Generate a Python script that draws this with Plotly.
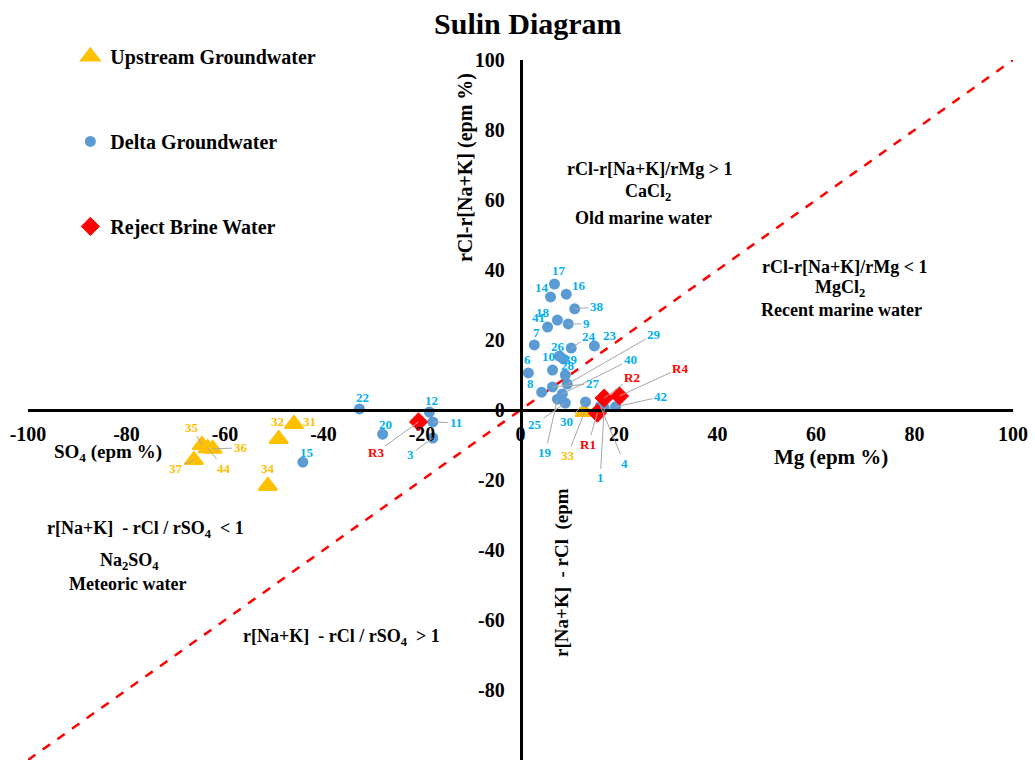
import plotly.graph_objects as go

# ---------------- data ----------------
delta_ids = ["17", "14", "16", "38", "18", "41", "9", "7", "24", "23", "26", "39", "10", "6",
             "28", "29", "40", "27", "8", "19", "25", "30", "42", "1", "4",
             "22", "12", "11", "20", "3", "15"]
delta_mg = [6.9, 6.1, 9.3, 11.0, 7.5, 5.5, 9.7, 2.8, 10.3, 15.0, 7.9, 8.7, 6.5, 1.6,
            9.1, 9.5, 8.5, 6.5, 4.3, 7.5, 9.1, 13.2, 19.3, 17.0, 16.2,
            -32.7, -18.5, -17.8, -28.0, -17.8, -44.2]
delta_cl = [36.0, 32.3, 33.1, 28.9, 25.7, 23.7, 24.6, 18.6, 17.7, 18.3, 15.4, 14.6, 11.4, 10.6,
            10.0, 7.4, 4.6, 6.6, 5.1, 3.1, 2.0, 2.3, 0.9, 0.6, 1.1,
            0.3, -0.6, -3.4, -6.9, -8.0, -14.9]

up_ids = ["31", "32", "35", "44", "36", "37", "34", "33"]
up_x = [-46.0, -49.1, -64.7, -63.5, -62.5, -66.3, -51.3, 13.0]
up_y = [-4.0, -8.3, -10.0, -10.9, -11.1, -14.3, -21.7, -0.6]

brine_ids = ["R1", "R2", "R4", "R3"]
brine_x = [15.6, 17.0, 20.1, -20.7]
brine_y = [-0.9, 3.4, 4.0, -3.4]

divider_x = [-100, 100]
divider_y = [-100, 100]

tick_vals = [-100, -80, -60, -40, -20, 0, 20, 40, 60, 80, 100]
tick_text = ["-100", "-80", "-60", "-40", "-20", "0", "20", "40", "60", "80", "100"]

# ---------------- styles ----------------
SERIF = "Liberation Serif"
C_UP, C_DELTA, C_BRINE = "#FFC000", "#5B9BD5", "#FF0000"
C_DELTA_LBL = "#00B0F0"

# label offsets in pixels (dx, dy, leader?)
label_style = {
    "17": (5, -14, False), "14": (-9, -9, False), "16": (13, -9, False), "38": (22, -2, True),
    "18": (-14, -8, False), "41": (-9, -10, False), "9": (18, 0, True), "7": (2, -12, False),
    "24": (18, -12, True), "23": (16, -10, False), "26": (-1, -10, False), "39": (8, 1, False),
    "10": (-4, -14, False), "6": (-1, -13, False), "28": (3, -10, False), "29": (87, -50, True),
    "40": (68, -34, True), "27": (40, -3, True), "8": (-11, -9, False), "19": (-12, 53, True),
    "25": (-30, 21, True), "30": (-19, 20, True), "42": (45, -10, True), "1": (-4, 70, True),
    "4": (24, 57, True), "22": (3, -11, False), "12": (2, -12, False), "11": (23, 1, True),
    "20": (3, -10, False), "3": (-22, 16, True), "15": (4, -10, False),
    "31": (16, -3, False), "32": (-1, -18, False), "35": (-10, -18, True), "36": (28, -1, True),
    "44": (16, 20, True), "37": (-18, 8, True), "34": (0, -17, False), "33": (-17, 43, True),
    "R1": (-9, 31, True), "R2": (28, -21, True), "R4": (61, -28, True), "R3": (-43, 31, True),
}

fig = go.Figure()

fig.add_trace(go.Scatter(x=divider_x, y=divider_y, mode="lines",
                         line=dict(color="#FF0000", width=2.5, dash="dash"),
                         showlegend=False, hoverinfo="skip"))

fig.add_trace(go.Scatter(x=up_x, y=up_y, mode="markers", name="Upstream Groundwater",
                         legendgroup="a",
                         marker=dict(symbol="triangle-up", size=16, color=C_UP,
                                     line=dict(color=C_UP, width=2))))
fig.add_trace(go.Scatter(x=delta_mg, y=delta_cl, mode="markers", name="Delta Groundwater",
                         legendgroup="b",
                         marker=dict(symbol="circle", size=11, color=C_DELTA)))
fig.add_trace(go.Scatter(x=brine_x, y=brine_y, mode="markers", name="Reject Brine Water",
                         legendgroup="c",
                         marker=dict(symbol="diamond", size=14, color=C_BRINE,
                                     line=dict(color=C_BRINE, width=1))))

annotations = []


def add_labels(ids, xs, ys, color):
    for i, x, y in zip(ids, xs, ys):
        dx, dy, leader = label_style[i]
        a = dict(x=x, y=y, xref="x", yref="y", text=i,
                 font=dict(family=SERIF, size=13, color=color, weight="bold"))
        if leader:
            a.update(showarrow=True, arrowhead=0, arrowwidth=1, arrowcolor="#A6A6A6",
                     ax=dx, ay=dy, standoff=0)
        else:
            a.update(showarrow=False, xshift=dx, yshift=-dy)
        annotations.append(a)


add_labels(delta_ids, delta_mg, delta_cl, C_DELTA_LBL)
add_labels(up_ids, up_x, up_y, C_UP)
add_labels(brine_ids, brine_x, brine_y, C_BRINE)

txt = dict(family=SERIF, size=18, color="black", weight="bold")


def note(x, y, text, angle=0, size=18):
    f = dict(txt)
    f["size"] = size
    annotations.append(dict(x=x, y=y, xref="paper", yref="paper", text=text,
                            showarrow=False, font=f, textangle=angle,
                            xanchor="center", yanchor="middle"))


def px(xp):
    return (xp - 28) / 987.0


def py(yp):
    return 1 - (yp - 60) / 700.0


note(px(651), py(169), "rCl-r[Na+K]/rMg &gt; 1")
note(px(649), py(193), "CaCl<sub>2</sub>")
note(px(645), py(218), "Old marine water")
note(px(846), py(267), "rCl-r[Na+K]/rMg &lt; 1")
note(px(842), py(288), "MgCl<sub>2</sub>")
note(px(843), py(310), "Recent marine water")
note(px(146), py(529), "r[Na+K]  - rCl / rSO<sub>4</sub>  &lt; 1")
note(px(130), py(561), "Na<sub>2</sub>SO<sub>4</sub>")
note(px(128), py(584), "Meteoric water")
note(px(342), py(637), "r[Na+K]  - rCl / rSO<sub>4</sub>  &gt; 1")
note(px(833), py(457), "Mg (epm %)", size=21)
note(px(108), py(453), "SO<sub>4</sub> (epm %)", size=19)
note(px(467), py(168), "rCl-r[Na+K] (epm %)", angle=-90, size=20)
note(px(563), py(572), "r[Na+K]  - rCl  (epm", angle=-90, size=19)

fig.update_layout(
    width=1035, height=767,
    margin=dict(l=28, r=20, t=60, b=7),
    paper_bgcolor="white", plot_bgcolor="white",
    title=dict(text="Sulin Diagram", x=0.51, xanchor="center", y=0.97, yanchor="middle",
               font=dict(family=SERIF, size=30, color="black", weight="bold")),
    xaxis=dict(range=[-100, 100], tickvals=tick_vals, ticktext=tick_text, showgrid=False,
               zeroline=False, showline=True, linecolor="black", linewidth=2.5,
               anchor="free", position=0.5, ticks="", ticklabelstandoff=5,
               tickfont=dict(family=SERIF, size=20, color="black", weight="bold")),
    yaxis=dict(range=[-100, 100], tickvals=tick_vals, ticktext=tick_text, showgrid=False,
               zeroline=False, showline=True, linecolor="black", linewidth=2.5,
               anchor="free", position=0.5, ticks="", ticklabelstandoff=11,
               tickfont=dict(family=SERIF, size=20, color="black", weight="bold")),
    legend=dict(x=0.043, y=1.033, xanchor="left", yanchor="top", tracegroupgap=56,
                bgcolor="rgba(0,0,0,0)", itemwidth=30,
                font=dict(family=SERIF, size=20, color="black", weight="bold")),
    annotations=annotations,
    showlegend=True,
)

fig.write_html("out.html")
